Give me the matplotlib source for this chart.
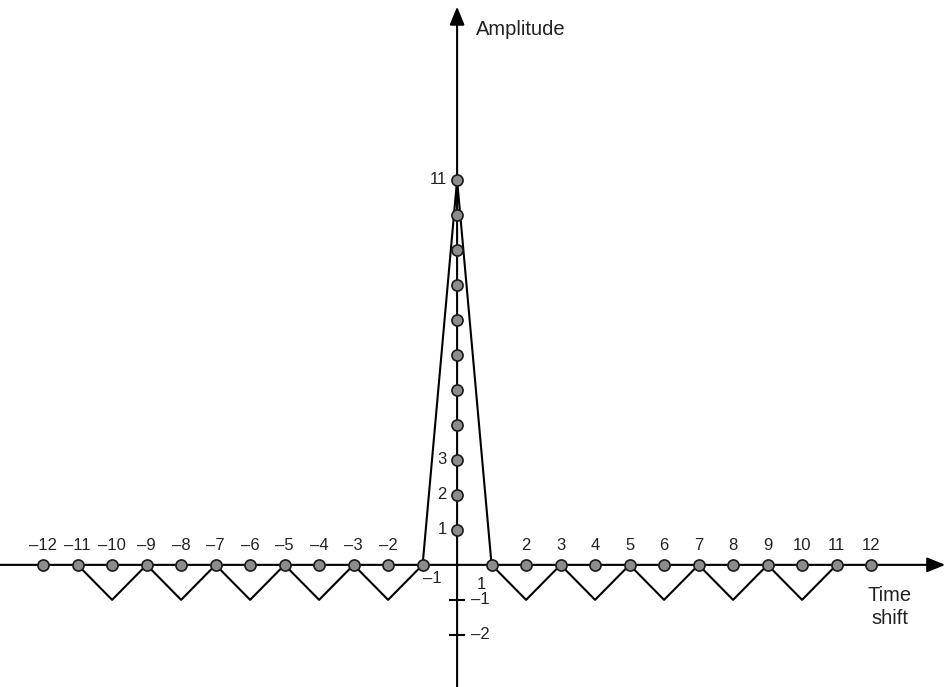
import numpy as np
import matplotlib
matplotlib.use("Agg")
import matplotlib.pyplot as plt

plt.rcParams['font.family'] = ['Liberation Sans', 'DejaVu Sans']

# autocorrelation of the 11-chip Barker code
shift = np.arange(-11, 12)
amplitude = [0, -1, 0, -1, 0, -1, 0, -1, 0, -1, 0, 11, 0, -1, 0, -1, 0, -1, 0, -1, 0, -1, 0]
# dots along the axes
axis_dots_x = [x for x in range(-12, 13) if x != 0]
axis_dots_y = list(range(1, 12))
xlabels_top = [x for x in range(-12, 13) if abs(x) > 1]
ylabels_left = [1, 2, 3, 11]
ylabels_neg = [-1, -2]

MINUS = '\u2013'

def fmt(v):
    return (MINUS + str(-v)) if v < 0 else str(v)

fig = plt.figure(figsize=(9.48, 6.87), dpi=100)
ax = fig.add_axes([0, 0, 1, 1])
ax.set_xlim(-13.25, 14.23)
ax.set_ylim(-3.49, 16.14)
ax.axis('off')

# axes with arrow heads
arrow = dict(arrowstyle='-|>,head_length=1.1,head_width=0.45',
             color='black', lw=1.5, shrinkA=0, shrinkB=0)
ax.annotate('', xy=(14.15, 0), xytext=(-13.3, 0), arrowprops=arrow,
            annotation_clip=False)
ax.annotate('', xy=(0, 15.95), xytext=(0, -3.6), arrowprops=arrow,
            annotation_clip=False)

# correlation line
ax.plot(shift, amplitude, color='black', lw=1.5, zorder=2)

# ticks at -1, -2 on the y axis
for v in ylabels_neg:
    ax.plot([-0.2, 0.2], [v, v], color='black', lw=1.5)

# dots
dot = dict(ls='none', marker='o', ms=8, mfc='#8c8c8c', mec='#1a1a1a', mew=1.2, zorder=3)
ax.plot(axis_dots_x, np.zeros(len(axis_dots_x)), **dot)
ax.plot(np.zeros(len(axis_dots_y)), axis_dots_y, **dot)

fs = 12
for x in xlabels_top:
    ax.text(x, 0.55, fmt(x), ha='center', va='center', fontsize=fs, color='#222222')
ax.text(-0.72, -0.4, fmt(-1), ha='center', va='center', fontsize=fs, color='#222222')
ax.text(0.7, -0.57, '1', ha='center', va='center', fontsize=fs, color='#222222')
for y in ylabels_left:
    ax.text(-0.3, y, fmt(y), ha='right', va='center', fontsize=fs, color='#222222')
for y in ylabels_neg:
    ax.text(0.4, y, fmt(y), ha='left', va='center', fontsize=fs, color='#222222')

ax.text(0.55, 15.3, 'Amplitude', ha='left', va='center', fontsize=14.5, color='#222222')
ax.text(12.55, -1.2, 'Time\nshift', ha='center', va='center', fontsize=14.5,
        color='#222222', linespacing=1.25)

fig.savefig('out.png', dpi=100)
